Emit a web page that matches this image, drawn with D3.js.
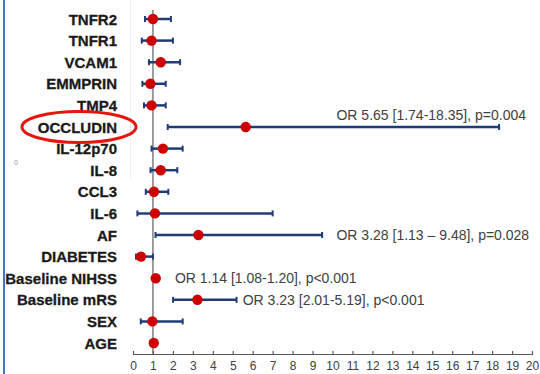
<!DOCTYPE html>
<html>
<head>
<meta charset="utf-8">
<script src="https://cdn.jsdelivr.net/npm/d3@7"></script>
<style>
  body { margin: 0; background: #fff; }
  svg { display: block; }
</style>
</head>
<body>
<script>
// variables, top to bottom
const labels = ["TNFR2", "TNFR1", "VCAM1", "EMMPRIN", "TMP4", "OCCLUDIN", "IL-12p70", "IL-8",
  "CCL3", "IL-6", "AF", "DIABETES", "Baseline NIHSS", "Baseline mRS", "SEX", "AGE"];
const oddsRatio = [1.0, 0.93, 1.39, 0.87, 0.93, 5.65, 1.5, 1.39, 1.05, 1.1, 3.28, 0.4, 1.14, 3.23, 0.97, 1.04];
const lower = [0.6, 0.44, 0.8, 0.47, 0.55, 1.74, 0.93, 0.88, 0.64, 0.22, 1.13, 0.15, 1.08, 2.01, 0.39, 1.0];
const upper = [1.9, 2.0, 2.36, 1.64, 1.64, 18.35, 2.49, 2.22, 1.77, 7.0, 9.48, 1.0, 1.20, 5.19, 2.49, 1.07];
const notes = [
  {label: "OCCLUDIN", text: "OR 5.65 [1.74-18.35], p=0.004", at: 10.2, above: true},
  {label: "AF", text: "OR 3.28 [1.13 \u2013 9.48], p=0.028", at: 10.2, above: false},
  {label: "Baseline NIHSS", text: "OR 1.14 [1.08-1.20], p<0.001", at: 2.1, above: false},
  {label: "Baseline mRS", text: "OR 3.23 [2.01-5.19], p<0.001", at: 5.5, above: false}
];
const ticks = d3.range(0, 21);

const width = 540, height = 374;
const svg = d3.select("body").append("svg")
  .attr("width", width).attr("height", height);

const x = d3.scaleLinear().domain([0, 20]).range([133, 532]);
const y = d3.scalePoint().domain(labels).range([19, 343]);
const axisY = 354;

// left edge line and faint frame line
svg.append("line").attr("x1", 4).attr("x2", 4).attr("y1", 0).attr("y2", height)
  .attr("stroke", "#4472c4").attr("stroke-width", 2);
svg.append("line").attr("x1", 130.5).attr("x2", 130.5).attr("y1", 0).attr("y2", 180)
  .attr("stroke", "#f0f0f0").attr("stroke-width", 1);
svg.append("text").attr("x", 16).attr("y", 165).attr("text-anchor", "middle")
  .attr("font-family", "Liberation Sans, Arial, sans-serif").attr("font-size", 7)
  .attr("fill", "#999").text("0");

// reference line at OR = 1
svg.append("line").attr("x1", x(1)).attr("x2", x(1)).attr("y1", 10).attr("y2", axisY)
  .attr("stroke", "#7f7f7f").attr("stroke-width", 1.5);

// x axis
const axis = svg.append("g").attr("transform", `translate(0,${axisY})`)
  .call(d3.axisBottom(x).tickValues(ticks).tickSize(0).tickPadding(7).tickFormat(d3.format("d")));
axis.select(".domain").attr("stroke", "#595959").attr("stroke-width", 1.2);
axis.selectAll(".tick line").remove();
axis.selectAll(".tick").append("line").attr("y1", -3).attr("y2", 1)
  .attr("stroke", "#595959").attr("stroke-width", 1.2);
axis.selectAll(".tick text").attr("font-family", "Liberation Sans, Arial, sans-serif")
  .attr("font-size", 12).attr("fill", "#404040");

// labels
svg.append("g").selectAll("text").data(labels).join("text")
  .attr("x", 117).attr("y", d => y(d)).attr("dy", "0.37em")
  .attr("text-anchor", "end")
  .attr("font-family", "Liberation Sans, Arial, sans-serif")
  .attr("font-weight", "bold").attr("font-size", 15).attr("fill", "#1a1a1a")
  .attr("stroke", "#1a1a1a").attr("stroke-width", 0.3)
  .text(d => d);

// highlight around OCCLUDIN
svg.append("ellipse").attr("cx", 79).attr("cy", y("OCCLUDIN")).attr("rx", 57).attr("ry", 15.5)
  .attr("fill", "none").attr("stroke", "#e8140e").attr("stroke-width", 3);

// error bars
const rows = labels.map((d, i) => ({label: d, or: oddsRatio[i], lo: lower[i], hi: upper[i]}));
const bars = svg.append("g").attr("stroke", "#1f3c78").attr("stroke-width", 2.5);
bars.selectAll("line.ci").data(rows).join("line").attr("class", "ci")
  .attr("x1", d => x(d.lo)).attr("x2", d => x(d.hi))
  .attr("y1", d => y(d.label)).attr("y2", d => y(d.label));
bars.selectAll("line.lo").data(rows).join("line").attr("class", "lo")
  .attr("x1", d => x(d.lo)).attr("x2", d => x(d.lo))
  .attr("y1", d => y(d.label) - 3).attr("y2", d => y(d.label) + 3).attr("stroke-width", 2);
bars.selectAll("line.hi").data(rows).join("line").attr("class", "hi")
  .attr("x1", d => x(d.hi)).attr("x2", d => x(d.hi))
  .attr("y1", d => y(d.label) - 3).attr("y2", d => y(d.label) + 3).attr("stroke-width", 2);

// points
svg.append("g").selectAll("circle").data(rows).join("circle")
  .attr("cx", d => x(d.or)).attr("cy", d => y(d.label)).attr("r", 5.2)
  .attr("fill", "#cc0000");

// annotations
svg.append("g").selectAll("text").data(notes).join("text")
  .attr("x", d => x(d.at)).attr("y", d => y(d.label) + (d.above ? -12 : 0)).attr("dy", "0.36em")
  .attr("font-family", "Liberation Sans, Arial, sans-serif").attr("font-size", 14)
  .attr("fill", "#404040")
  .text(d => d.text);
</script>
</body>
</html>
